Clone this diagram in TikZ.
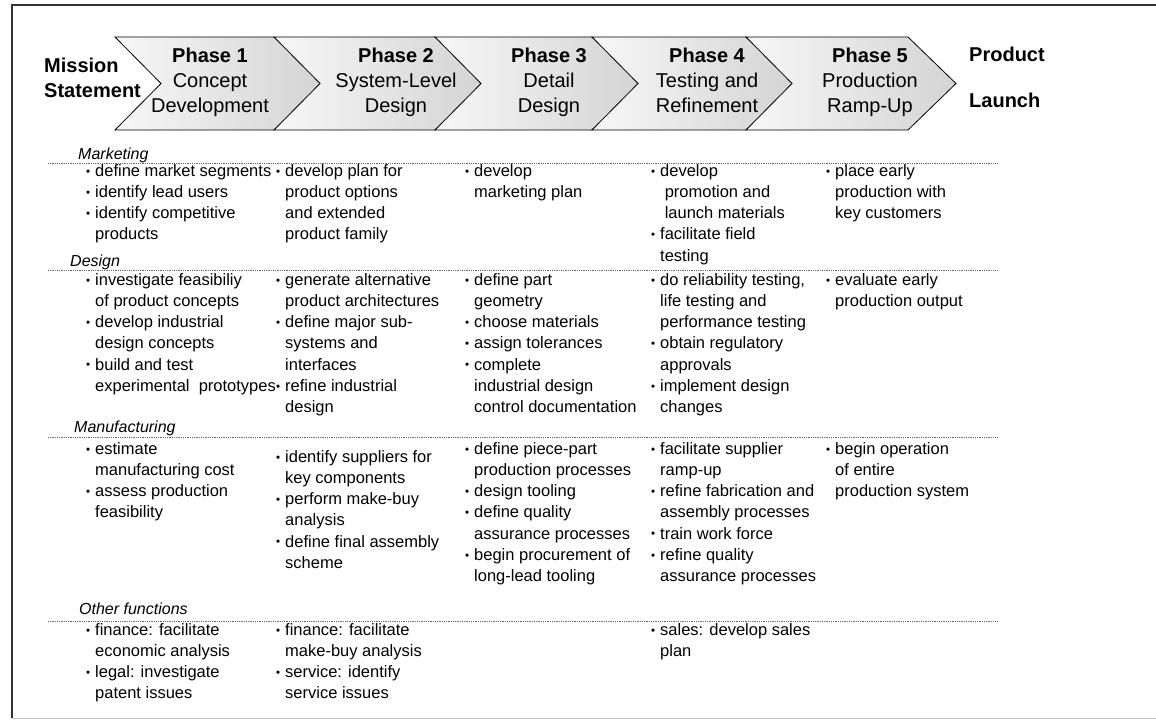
\documentclass[tikz,border=0pt]{standalone}
\usepackage{fontspec}
\setmainfont{Liberation Sans}
\usepackage{graphicx}

\newcommand{\bul}{\makebox[9pt][l]{\raisebox{0.08em}{\scalebox{0.7}{\textbullet}}}}
\newcommand{\ind}{\hspace*{9pt}}

\begin{document}
\begin{tikzpicture}[x=1pt,y=-1pt,
  phase/.style={anchor=north,inner sep=0pt,align=center,font=\fontsize{20}{25}\selectfont,execute at begin node=\strut},
  side/.style={anchor=north west,inner sep=0pt,align=left,font=\bfseries\fontsize{20}{25}\selectfont,execute at begin node=\strut},
  cell/.style={anchor=north west,inner sep=0pt,align=left,font=\fontsize{16.5}{21.2}\selectfont,execute at begin node=\strut},
  area/.style={anchor=base west,inner sep=0pt,font=\itshape\fontsize{16}{20}\selectfont},
  sep/.style={black!60,densely dotted,line width=0.8pt}]

\useasboundingbox (0,0) rectangle (1156,725);

% frame
\draw[line width=2.2pt,black!80] (1156,5) -- (12,5) -- (12,718);
\draw[black!25] (12,718) -- (1156,718);

% phase arrows
\foreach \bx/\tx in {115/274,274/435,435/592,592/746,746/908}
  \draw[left color=gray!6,right color=gray!34,line width=0.8pt]
    (\bx,37) -- (\tx,37) -- (\tx+48,83.5) -- (\tx,130) -- (\bx,130) -- (\bx+46,83.5) -- cycle;

\node[side] (mission) at (44,57.5) {Mission\\Statement};
\node[side] (launch) at (969,46.5) {Product\\[21pt]Launch};

\node[phase] (p1) at (210,47.5) {\textbf{Phase 1}\\Concept\\Development};
\node[phase] (p2) at (396,47.5) {\textbf{Phase 2}\\System-Level\\Design};
\node[phase] (p3) at (549,47.5) {\textbf{Phase 3}\\Detail\\Design};
\node[phase] (p4) at (707,47.5) {\textbf{Phase 4}\\Testing and\\Refinement};
\node[phase] (p5) at (870,47.5) {\textbf{Phase 5}\\Production\\Ramp-Up};

% rows of functions
\foreach \y in {163,270,437,621}
  \draw[sep] (48,\y) -- (997,\y);

\node[area] (mkt) at (78,159) {Marketing};
\node[area] (des) at (70,266) {Design};
\node[area] (man) at (74,432) {Manufacturing};
\node[area] (oth) at (79,614) {Other functions};

% marketing
\node[cell] (mk1) at (86,164.2) {\bul define market segments\\\bul identify lead users\\\bul identify competitive\\\ind products};
\node[cell] (mk2) at (276,164.2) {\bul develop plan for\\\ind product options\\\ind and extended\\\ind product family};
\node[cell] (mk3) at (465,164.2) {\bul develop\\\ind marketing plan};
\node[cell] (mk4) at (651,164.2) {\bul develop\\\ind\ promotion and\\\ind\ launch materials\\\bul facilitate field\\\ind testing};
\node[cell] (mk5) at (826,164.2) {\bul place early\\\ind production with\\\ind key customers};

% design
\node[cell] (de1) at (86,273.2) {\bul investigate feasibiliy\\\ind of product concepts\\\bul develop industrial\\\ind design concepts\\\bul build and test\\\ind experimental\ \ prototypes};
\node[cell] (de2) at (276,273.2) {\bul generate alternative\\\ind product architectures\\\bul define major sub-\\\ind systems and\\\ind interfaces\\\bul refine industrial\\\ind design};
\node[cell] (de3) at (465,273.2) {\bul define part\\\ind geometry\\\bul choose materials\\\bul assign tolerances\\\bul complete\\\ind industrial design\\\ind control documentation};
\node[cell] (de4) at (651,273.2) {\bul do reliability testing,\\\ind life testing and\\\ind performance testing\\\bul obtain regulatory\\\ind approvals\\\bul implement design\\\ind changes};
\node[cell] (de5) at (826,273.2) {\bul evaluate early\\\ind production output};

% manufacturing
\node[cell] (ma1) at (86,442.2) {\bul estimate\\\ind manufacturing cost\\\bul assess production\\\ind feasibility};
\node[cell] (ma2) at (276,450.2) {\bul identify suppliers for\\\ind key components\\\bul perform make-buy\\\ind analysis\\\bul define final assembly\\\ind scheme};
\node[cell] (ma3) at (465,442.2) {\bul define piece-part\\\ind production processes\\\bul design tooling\\\bul define quality\\\ind assurance processes\\\bul begin procurement of\\\ind long-lead tooling};
\node[cell] (ma4) at (651,442.2) {\bul facilitate supplier\\\ind ramp-up\\\bul refine fabrication and\\\ind assembly processes\\\bul train work force\\\bul refine quality\\\ind assurance processes};
\node[cell] (ma5) at (826,442.2) {\bul begin operation\\\ind of entire\\\ind production system};

% other functions
\node[cell] (ot1) at (86,623.2) {\bul finance: facilitate\\\ind economic analysis\\\bul legal: investigate\\\ind patent issues};
\node[cell] (ot2) at (276,623.2) {\bul finance: facilitate\\\ind make-buy analysis\\\bul service: identify\\\ind service issues};
\node[cell] (ot4) at (651,623.2) {\bul sales: develop sales\\\ind plan};

\end{tikzpicture}
\end{document}
